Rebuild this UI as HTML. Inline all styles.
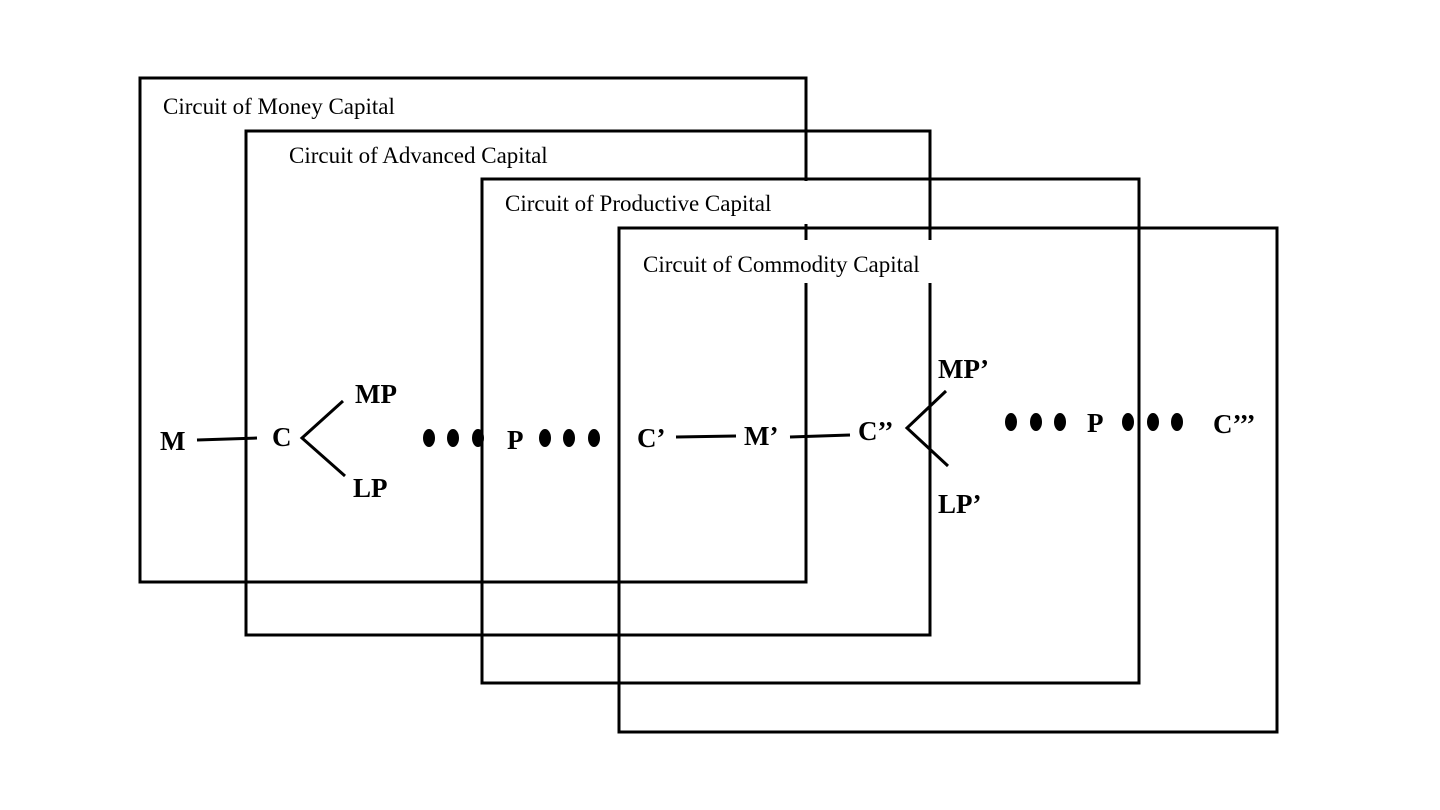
<!DOCTYPE html>
<html><head><meta charset="utf-8"><style>html,body{margin:0;padding:0;background:#fff}svg{display:block}</style></head>
<body>
<svg width="1440" height="810" xmlns="http://www.w3.org/2000/svg">
<rect width="1440" height="810" fill="#fff"/>
<g fill="none" stroke="#000" stroke-width="3">
<rect x="140" y="78" width="666" height="504"/>
<rect x="246" y="131" width="684" height="504"/>
<rect x="482" y="179" width="657" height="504"/>
<rect x="619" y="228" width="658" height="504"/>
</g>
<rect x="495" y="181" width="337" height="43" fill="#fff"/>
<rect x="632" y="240" width="340" height="43" fill="#fff"/>
<g font-family="Liberation Serif, serif" font-size="23" fill="#000">
<text x="163" y="114">Circuit of Money Capital</text>
<text x="289" y="163">Circuit of Advanced Capital</text>
<text x="505" y="211">Circuit of Productive Capital</text>
<text x="643" y="272">Circuit of Commodity Capital</text>
</g>
<g stroke="#000" stroke-width="3" fill="none">
<line x1="197" y1="440" x2="257" y2="438"/>
<polyline points="343,401 302,438 345,476"/>
<line x1="676" y1="437" x2="736" y2="436"/>
<line x1="790" y1="437" x2="850" y2="435"/>
<polyline points="946,391 907,428 948,466"/>
</g>
<g fill="#000">
<ellipse cx="429" cy="438" rx="6" ry="9"/><ellipse cx="453" cy="438" rx="6" ry="9"/><ellipse cx="478" cy="438" rx="6" ry="9"/>
<ellipse cx="545" cy="438" rx="6" ry="9"/><ellipse cx="569" cy="438" rx="6" ry="9"/><ellipse cx="594" cy="438" rx="6" ry="9"/>
<ellipse cx="1011" cy="422" rx="6" ry="9"/><ellipse cx="1036" cy="422" rx="6" ry="9"/><ellipse cx="1060" cy="422" rx="6" ry="9"/>
<ellipse cx="1128" cy="422" rx="6" ry="9"/><ellipse cx="1153" cy="422" rx="6" ry="9"/><ellipse cx="1177" cy="422" rx="6" ry="9"/>
</g>
<g font-family="Liberation Serif, serif" font-size="27" font-weight="bold" fill="#000">
<text x="160" y="450">M</text>
<text x="272" y="446">C</text>
<text x="355" y="403">MP</text>
<text x="353" y="497">LP</text>
<text x="507" y="449">P</text>
<text x="637" y="447">C’</text>
<text x="744" y="445">M’</text>
<text x="858" y="440">C’’</text>
<text x="938" y="378">MP’</text>
<text x="938" y="513">LP’</text>
<text x="1087" y="432">P</text>
<text x="1213" y="433">C’’’</text>
</g>
</svg>
</body></html>
